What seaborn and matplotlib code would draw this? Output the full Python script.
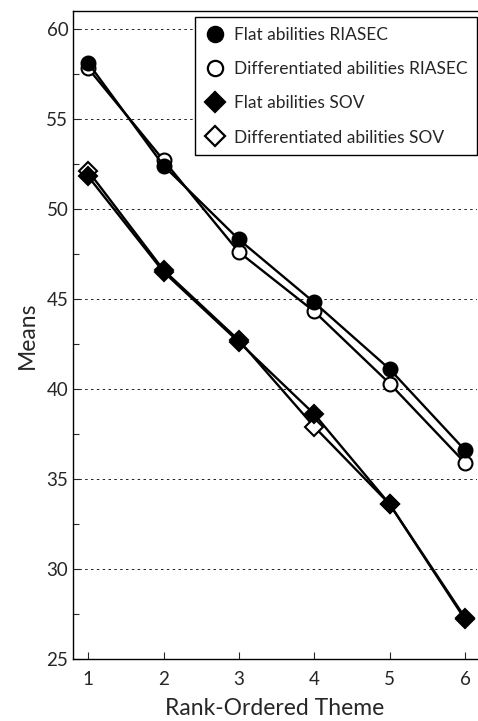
import numpy as np
import pandas as pd
import matplotlib
matplotlib.use("Agg")
import matplotlib.pyplot as plt
import seaborn as sns
from matplotlib.lines import Line2D

# data
themes = [1, 2, 3, 4, 5, 6]
flat_riasec = [58.1, 52.4, 48.3, 44.8, 41.1, 36.6]
diff_riasec = [57.8, 52.7, 47.6, 44.3, 40.3, 35.9]
flat_sov = [51.8, 46.5, 42.6, 38.6, 33.6, 27.2]
diff_sov = [52.1, 46.6, 42.7, 37.9, 33.6, 27.3]

series_names = [
    "Flat abilities RIASEC",
    "Differentiated abilities RIASEC",
    "Flat abilities SOV",
    "Differentiated abilities SOV",
]

rows = []
for name, vals in zip(series_names, [flat_riasec, diff_riasec, flat_sov, diff_sov]):
    for t, v in zip(themes, vals):
        rows.append({"theme": t, "mean": v, "series": name})
df = pd.DataFrame(rows)

sns.set_style("ticks")
plt.rcParams["font.family"] = ["Lato", "DejaVu Sans"]

fig = plt.figure(figsize=(4.78, 7.21), dpi=100)
ax = fig.add_axes([0.153, 0.086, 0.845, 0.899])

styles = {
    "Flat abilities RIASEC": dict(marker="o", mfc="black", ms=10),
    "Differentiated abilities RIASEC": dict(marker="o", mfc="white", ms=10),
    "Flat abilities SOV": dict(marker="D", mfc="black", ms=9),
    "Differentiated abilities SOV": dict(marker="D", mfc="white", ms=9),
}

# open markers first so filled ones sit on top where they overlap
draw_order = [series_names[1], series_names[3], series_names[0], series_names[2]]
for name in draw_order:
    st = styles[name]
    sns.lineplot(
        data=df[df["series"] == name], x="theme", y="mean", ax=ax,
        color="black", linewidth=1.7, marker=st["marker"],
        markersize=st["ms"], markerfacecolor=st["mfc"],
        markeredgecolor="black", markeredgewidth=1.5, legend=False,
    )

ax.set_xlim(0.8, 6.16)
ax.set_ylim(25, 61)
ax.set_xticks(themes)
ax.set_yticks([25, 30, 35, 40, 45, 50, 55, 60])
ax.set_yticks(np.arange(27.5, 60, 5), minor=True)
ax.tick_params(axis="both", direction="in", labelsize=13.5, length=5, width=0.8)
ax.tick_params(axis="y", which="minor", direction="in", length=4, width=0.8)
ax.tick_params(axis="x", pad=9)

for y in [30, 35, 40, 45, 50, 55, 60]:
    ax.axhline(y, color="black", linestyle=(0, (3, 4)), linewidth=0.6, zorder=0)

ax.spines["right"].set_visible(False)
for s in ["left", "bottom", "top"]:
    ax.spines[s].set_linewidth(1.0)
    ax.spines[s].set_color("black")

ax.set_xlabel("Rank-Ordered Theme", fontsize=16.5, labelpad=7)
ax.set_ylabel("Means", fontsize=16.5, labelpad=6)

handles = []
for name in series_names:
    st = styles[name]
    handles.append(Line2D([], [], linestyle="none", marker=st["marker"],
                          markersize=st["ms"] + 1, markerfacecolor=st["mfc"],
                          markeredgecolor="black", markeredgewidth=1.6))
leg = ax.legend(handles, series_names, loc="upper right", bbox_to_anchor=(1.0, 0.99),
                fontsize=12.5, frameon=True, fancybox=False, handletextpad=0.5,
                labelspacing=1.05, borderpad=0.55, handlelength=1.2,
                borderaxespad=0.0)
leg.get_frame().set_edgecolor("black")
leg.get_frame().set_linewidth(1.0)
leg.get_frame().set_alpha(1)

fig.savefig("out.png", dpi=100)
